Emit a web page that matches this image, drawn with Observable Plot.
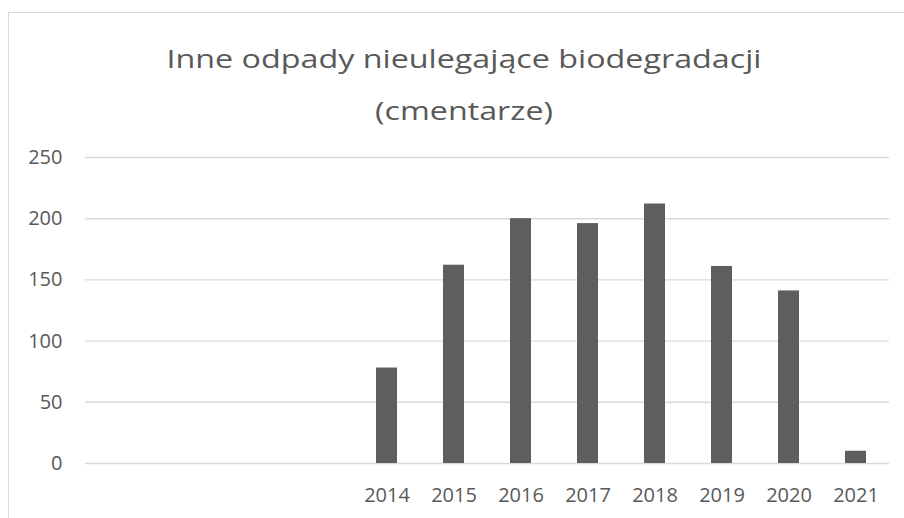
<!DOCTYPE html>
<html>
<head>
<meta charset="utf-8">
<script src="https://cdn.jsdelivr.net/npm/d3@7"></script>
<script src="https://cdn.jsdelivr.net/npm/@observablehq/plot@0.6"></script>
<style>
  html, body { margin: 0; padding: 0; background: #fff; }
  #wrap { position: relative; width: 904px; height: 518px; overflow: hidden; font-family: "Open Sans", sans-serif; }
  #frameTop { position: absolute; left: 8px; top: 12px; width: 900px; height: 0; border-top: 1.5px solid #d9d9d9; }
  #frameLeft { position: absolute; left: 8px; top: 12px; width: 0; height: 520px; border-left: 1.5px solid #d9d9d9; }
  #chart { position: absolute; left: 0; top: 0; }
  #title { position: absolute; left: 0; top: 0; }
</style>
</head>
<body>
<div id="wrap">
  <div id="frameTop"></div>
  <div id="frameLeft"></div>
  <div id="chart"></div>
  <svg id="title" width="904" height="140" font-family="Open Sans" fill="#595959" font-size="25.5" text-anchor="middle">
    <text x="464" y="68" textLength="595" lengthAdjust="spacingAndGlyphs">Inne odpady nieulegające biodegradacji</text>
    <text x="464" y="120" textLength="178" lengthAdjust="spacingAndGlyphs">(cmentarze)</text>
  </svg>
</div>
<script>
const xLabels = ["", "", "", "", "2014", "2015", "2016", "2017", "2018", "2019", "2020", "2021"];
const values = [null, null, null, null, 78, 162, 200, 196, 212, 161, 141, 10];
const yTicks = [0, 50, 100, 150, 200, 250];

const data = xLabels.map((label, i) => ({i, label, value: values[i]}));

const chart = Plot.plot({
  width: 904,
  height: 518,
  marginTop: 157,
  marginBottom: 55,
  marginLeft: 85,
  marginRight: 15,
  style: {fontFamily: "Open Sans", fontSize: "20px", color: "#595959", background: "transparent"},
  x: {type: "band", domain: d3.range(xLabels.length), paddingInner: 0.69, paddingOuter: 0.345, align: 0.5, label: null},
  y: {domain: [0, 250], label: null},
  marks: [
    Plot.gridY(yTicks, {stroke: "#d9d9d9", strokeOpacity: 1, strokeWidth: 1.4}),
    Plot.barY(data.filter(d => d.value != null), {x: "i", y: "value", fill: "#5e5e5e"}),
    Plot.axisX({tickSize: 0, tickPadding: 24.5, tickFormat: i => xLabels[i], fill: "#595959", fontSize: 20, label: null}),
    Plot.axisY(yTicks, {tickSize: 0, tickPadding: 23, fill: "#595959", fontSize: 20, label: null})
  ]
});
document.getElementById("chart").appendChild(chart);
</script>
</body>
</html>
